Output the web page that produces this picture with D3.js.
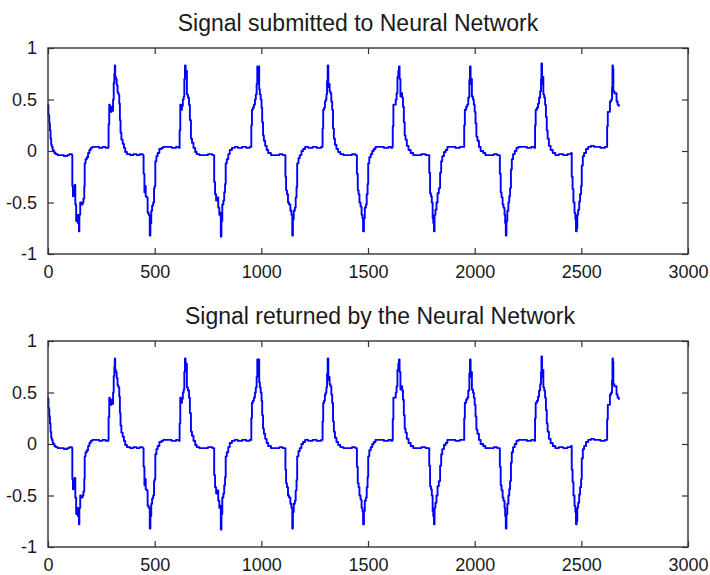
<html>
<head>
    <style>
        body { margin: 0; background: #fff; }
        text { font-family: "Liberation Sans", Arial, sans-serif; fill: #1a1a1a; }
        .axis path, .axis line { stroke: #333; stroke-width: 1.2px; }
    </style>
</head>
<body>
<script src="https://d3js.org/d3.v7.min.js"></script>
<script>
    var width = 710,
        height = 575;

    var titles = ["Signal submitted to Neural Network", "Signal returned by the Neural Network"];
    var titleCenters = [358, 380];
    var xTicks = [0, 500, 1000, 1500, 2000, 2500, 3000];
    var yTicks = [-1, -0.5, 0, 0.5, 1];
    var yTickLabels = ["-1", "-0.5", "0", "0.5", "1"];

    // [sample, value]
    var submittedSignal = [
        [0,0.45],[1,0.44],[2,0.35],[5,0.34],[6,0.27],[9,0.2],[12,0.12],[15,0.06],[18,0.04],[22,0.01],[26,0.0],[30,-0.02],[36,-0.03],[45,-0.04],[60,-0.04],[75,-0.05],[90,-0.04],[100,-0.03],[108,-0.03],[112,-0.04],
        [114,-0.34],[117,-0.44],[119,-0.38],[123,-0.36],[125,-0.33],[128,-0.52],[132,-0.68],[136,-0.62],[140,-0.70],[145,-0.78],[147,-0.62],[151,-0.50],[156,-0.52],[162,-0.50],[166,-0.46],[170,-0.34],[172,-0.12],[176,-0.08],[182,-0.06],[188,-0.02],[194,0.01],[200,0.03],[208,0.04],[225,0.04],[240,0.03],[255,0.04],[270,0.03],[282,0.04],
        [284,0.26],[287,0.45],[290,0.40],[294,0.38],[298,0.43],[302,0.39],[305,0.50],[308,0.66],[311,0.75],[313,0.83],[315,0.72],[318,0.70],[322,0.64],[326,0.57],[330,0.55],[334,0.46],[337,0.30],[340,0.18],[344,0.11],[350,0.07],[356,0.03],[362,-0.01],[370,-0.03],[385,-0.04],[400,-0.03],[415,-0.04],[430,-0.03],[444,-0.04],
        [448,-0.22],[452,-0.40],[455,-0.34],[458,-0.44],[462,-0.45],[467,-0.60],[472,-0.62],[477,-0.82],[480,-0.70],[484,-0.58],[488,-0.53],[493,-0.50],[497,-0.36],[500,-0.34],[503,-0.10],[508,-0.05],[514,-0.02],[522,0.02],[532,0.03],[540,0.04],[560,0.04],[580,0.03],[600,0.04],[614,0.03],
        [617,0.20],[620,0.45],[624,0.40],[628,0.44],[632,0.50],[636,0.53],[639,0.70],[642,0.83],[645,0.72],[648,0.78],[651,0.55],[656,0.52],[661,0.45],[665,0.30],[670,0.12],[675,0.08],[682,0.03],[690,-0.01],[697,-0.03],[710,-0.04],[730,-0.04],[750,-0.03],[770,-0.04],[776,-0.04],
        [779,-0.30],[783,-0.42],[788,-0.48],[793,-0.45],[798,-0.55],[803,-0.62],[807,-0.60],[810,-0.83],[813,-0.68],[817,-0.52],[822,-0.48],[826,-0.40],[830,-0.32],[833,-0.12],[838,-0.08],[845,-0.03],[852,0.01],[862,0.03],[875,0.04],[890,0.03],[910,0.04],[930,0.03],[945,0.04],[950,0.04],
        [953,0.25],[956,0.40],[960,0.42],[965,0.45],[970,0.50],[974,0.55],[978,0.65],[981,0.82],[984,0.70],[987,0.82],[990,0.60],[993,0.55],[997,0.50],[1001,0.42],[1004,0.28],[1008,0.15],[1012,0.10],[1018,0.05],[1025,0.01],[1032,-0.02],[1045,-0.04],[1065,-0.04],[1085,-0.03],[1100,-0.04],[1110,-0.04],
        [1113,-0.25],[1116,-0.38],[1120,-0.42],[1125,-0.50],[1130,-0.52],[1136,-0.58],[1141,-0.62],[1145,-0.82],[1148,-0.66],[1152,-0.58],[1157,-0.55],[1161,-0.45],[1165,-0.35],[1168,-0.12],[1174,-0.07],[1180,-0.04],[1188,0.0],[1196,0.02],[1205,0.04],[1220,0.03],[1240,0.04],[1260,0.03],[1280,0.04],[1284,0.04],
        [1287,0.22],[1290,0.40],[1294,0.42],[1298,0.48],[1302,0.50],[1305,0.55],[1308,0.68],[1311,0.83],[1314,0.62],[1317,0.65],[1320,0.58],[1324,0.56],[1328,0.48],[1332,0.40],[1336,0.22],[1340,0.12],[1345,0.06],[1352,0.02],[1360,-0.01],[1370,-0.03],[1385,-0.04],[1405,-0.04],[1425,-0.03],[1440,-0.04],[1446,-0.04],
        [1448,-0.22],[1452,-0.38],[1456,-0.42],[1460,-0.50],[1465,-0.54],[1470,-0.62],[1474,-0.65],[1477,-0.78],[1481,-0.65],[1485,-0.55],[1490,-0.52],[1494,-0.42],[1498,-0.32],[1501,-0.12],[1506,-0.06],[1513,-0.03],[1520,0.0],[1527,0.02],[1535,0.04],[1555,0.04],[1575,0.03],[1595,0.04],[1608,0.03],[1613,0.04],
        [1616,0.24],[1619,0.45],[1625,0.45],[1630,0.50],[1634,0.56],[1638,0.72],[1642,0.78],[1645,0.82],[1648,0.70],[1652,0.53],[1656,0.56],[1660,0.52],[1664,0.43],[1668,0.28],[1672,0.15],[1676,0.11],[1682,0.05],[1690,0.01],[1700,-0.02],[1712,-0.04],[1730,-0.04],[1750,-0.03],[1770,-0.04],[1784,-0.04],
        [1787,-0.21],[1791,-0.41],[1795,-0.44],[1799,-0.50],[1803,-0.65],[1806,-0.70],[1809,-0.78],[1812,-0.62],[1816,-0.57],[1821,-0.50],[1826,-0.41],[1832,-0.36],[1838,-0.21],[1843,-0.10],[1848,-0.05],[1856,-0.01],[1864,0.01],[1872,0.04],[1890,0.04],[1910,0.03],[1930,0.04],[1948,0.04],
        [1951,0.25],[1954,0.40],[1960,0.43],[1965,0.45],[1970,0.52],[1975,0.69],[1978,0.82],[1981,0.65],[1984,0.70],[1987,0.53],[1992,0.50],[1996,0.45],[2000,0.38],[2004,0.27],[2008,0.14],[2013,0.10],[2020,0.04],[2028,0.0],[2040,-0.02],[2050,-0.04],[2070,-0.04],[2090,-0.03],[2105,-0.04],[2115,-0.04],
        [2118,-0.22],[2122,-0.40],[2126,-0.45],[2131,-0.52],[2135,-0.55],[2140,-0.62],[2143,-0.70],[2146,-0.82],[2149,-0.68],[2153,-0.58],[2158,-0.50],[2162,-0.44],[2166,-0.36],[2170,-0.18],[2174,-0.08],[2180,-0.03],[2188,0.0],[2196,0.03],[2205,0.04],[2225,0.04],[2245,0.03],[2265,0.04],[2280,0.03],
        [2283,0.25],[2286,0.40],[2292,0.42],[2297,0.46],[2302,0.52],[2307,0.58],[2311,0.70],[2313,0.85],[2316,0.65],[2319,0.72],[2322,0.55],[2326,0.52],[2330,0.45],[2334,0.33],[2338,0.20],[2342,0.12],[2348,0.05],[2356,0.01],[2366,-0.02],[2378,-0.04],[2395,-0.03],[2415,-0.04],[2435,-0.03],[2452,-0.02],
        [2455,-0.25],[2459,-0.37],[2463,-0.50],[2468,-0.60],[2472,-0.66],[2475,-0.78],[2478,-0.75],[2481,-0.62],[2485,-0.57],[2490,-0.49],[2494,-0.42],[2499,-0.34],[2502,-0.14],[2507,-0.05],[2513,-0.02],[2522,0.02],[2532,0.04],[2545,0.05],[2560,0.04],[2575,0.04],[2590,0.03],[2600,0.03],[2610,0.04],[2618,0.04],
        [2621,0.24],[2624,0.38],[2630,0.38],[2634,0.48],[2640,0.50],[2644,0.62],[2646,0.83],[2648,0.80],[2650,0.58],[2655,0.56],[2662,0.56],[2665,0.48],[2670,0.45],[2676,0.43]
    ];
    // the network output is indistinguishable from the input at this scale
    var returnedSignal = submittedSignal;

    var panels = [
        { title: titles[0], titleX: titleCenters[0], data: submittedSignal, top: 48, bottom: 254 },
        { title: titles[1], titleX: titleCenters[1], data: returnedSignal, top: 341, bottom: 547 }
    ];
    var left = 48, right = 688, tickLen = 6;

    var svg = d3.select("body")
        .append("svg")
        .attr("width", width)
        .attr("height", height);

    svg.append("rect").attr("width", width).attr("height", height).attr("fill", "#fff");

    panels.forEach(function (p) {
        var x = d3.scaleLinear().domain([0, 3000]).range([left, right]);
        var y = d3.scaleLinear().domain([-1, 1]).range([p.bottom, p.top]);

        var g = svg.append("g");

        // bottom axis with labels
        g.append("g")
            .attr("class", "axis")
            .attr("transform", "translate(0," + p.bottom + ")")
            .call(d3.axisBottom(x).tickValues(xTicks).tickFormat(d3.format("d"))
                .tickSize(-tickLen).tickPadding(tickLen + 5).tickSizeOuter(0))
            .call(function (a) { a.select(".domain").remove(); })
            .selectAll("text").style("font-size", "18px").attr("fill", "#1a1a1a");

        // top axis, ticks only
        g.append("g")
            .attr("class", "axis")
            .attr("transform", "translate(0," + p.top + ")")
            .call(d3.axisTop(x).tickValues(xTicks).tickSize(-tickLen).tickFormat("").tickSizeOuter(0))
            .call(function (a) { a.select(".domain").remove(); });

        // left axis with labels
        g.append("g")
            .attr("class", "axis")
            .attr("transform", "translate(" + left + ",0)")
            .call(d3.axisLeft(y).tickValues(yTicks).tickSize(-tickLen).tickPadding(tickLen + 5).tickSizeOuter(0)
                .tickFormat(function (d, i) { return yTickLabels[i]; }))
            .call(function (a) { a.select(".domain").remove(); })
            .selectAll("text").style("font-size", "18px").attr("fill", "#1a1a1a");

        // right axis, ticks only
        g.append("g")
            .attr("class", "axis")
            .attr("transform", "translate(" + right + ",0)")
            .call(d3.axisRight(y).tickValues(yTicks).tickSize(-tickLen).tickFormat("").tickSizeOuter(0))
            .call(function (a) { a.select(".domain").remove(); });

        // signal
        var line = d3.line()
            .curve(d3.curveStepAfter)
            .x(function (d) { return x(d[0]); })
            .y(function (d) { return y(d[1]); });

        g.append("path")
            .datum(p.data)
            .attr("fill", "none")
            .attr("stroke", "#0000ff")
            .attr("stroke-width", 1.9)
            .attr("stroke-linejoin", "round")
            .attr("d", line);

        // box
        g.append("rect")
            .attr("x", left)
            .attr("y", p.top)
            .attr("width", right - left)
            .attr("height", p.bottom - p.top)
            .attr("fill", "none")
            .attr("stroke", "#333")
            .attr("stroke-width", 1.4);

        g.append("text")
            .attr("x", p.titleX)
            .attr("y", p.top - 17)
            .attr("text-anchor", "middle")
            .style("font-size", "23px")
            .text(p.title);
    });
</script>
</body>
</html>
